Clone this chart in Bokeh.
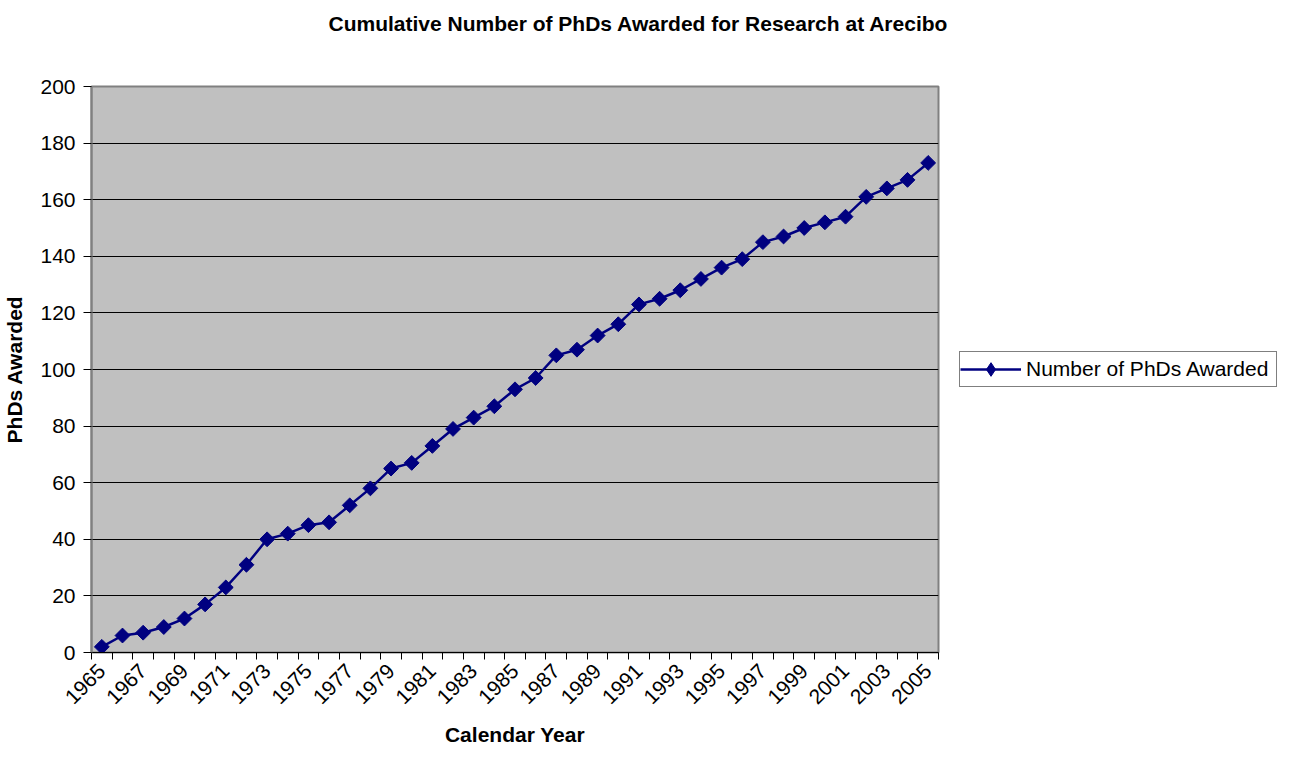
import math
from bokeh.plotting import figure
from bokeh.models import (Range1d, FixedTicker, Legend, LegendItem,
                          ColumnDataSource, Title)
from bokeh.embed import file_html
from bokeh.resources import INLINE

years = list(range(1965, 2006))
phds = [2, 6, 7, 9, 12, 17, 23, 31, 40, 42, 45, 46, 52, 58, 65, 67, 73, 79, 83,
        87, 93, 97, 105, 107, 112, 116, 123, 125, 128, 132, 136, 139, 145, 147,
        150, 152, 154, 161, 164, 167, 173]
series_name = "Number of PhDs Awarded"
title_text = "Cumulative Number of PhDs Awarded for Research at Arecibo"
x_title = "Calendar Year"
y_title = "PhDs Awarded"
y_ticks = list(range(0, 201, 20))
x_label_years = list(range(1965, 2006, 2))

FONT = "Liberation Sans"
FS = "21px"
NAVY = "#000080"

p = figure(frame_width=847, frame_height=566, title=None,
           output_backend="svg", toolbar_location=None,
           x_range=Range1d(years[0] - 0.5, years[-1] + 0.5),
           y_range=Range1d(0, 200),
           min_border_left=86, min_border_right=22,
           min_border_top=86, min_border_bottom=94)

p.background_fill_color = "#C0C0C0"
p.border_fill_color = "white"
p.outline_line_color = "#808080"
p.outline_line_width = 2

# spacer panel between frame and title, then the title itself
p.add_layout(Title(text=" ", text_font_size=FS, standoff=22), "above")
p.add_layout(Title(text=title_text, text_font=FONT, text_font_size=FS,
                   text_font_style="bold", text_color="black",
                   align="left", offset=237, standoff=10), "above")

# axes
p.xaxis.ticker = FixedTicker(ticks=x_label_years,
                             minor_ticks=[y - 0.5 for y in years] + [years[-1] + 0.5])
p.xaxis.major_tick_line_color = None
p.xaxis.minor_tick_line_color = "black"
p.xaxis.minor_tick_out = 7
p.xaxis.minor_tick_in = 0
p.xaxis.axis_line_color = "black"
p.xaxis.major_label_orientation = math.pi / 4
p.xaxis.major_label_text_font = FONT
p.xaxis.major_label_text_font_size = FS
p.xaxis.major_label_text_color = "black"
p.xaxis.major_label_standoff = 8
p.xaxis.axis_label = x_title
p.xaxis.axis_label_text_font = FONT
p.xaxis.axis_label_text_font_size = FS
p.xaxis.axis_label_text_font_style = "bold"
p.xaxis.axis_label_text_color = "black"
p.xaxis.axis_label_standoff = 10

p.yaxis.ticker = FixedTicker(ticks=y_ticks)
p.yaxis.minor_tick_line_color = None
p.yaxis.major_tick_line_color = "black"
p.yaxis.major_tick_out = 8
p.yaxis.major_tick_in = 0
p.yaxis.axis_line_color = "#808080"
p.yaxis.axis_line_width = 2
p.yaxis.major_label_text_font = FONT
p.yaxis.major_label_text_font_size = FS
p.yaxis.major_label_text_color = "black"
p.yaxis.major_label_standoff = 8
p.yaxis.axis_label = y_title
p.yaxis.axis_label_text_font = FONT
p.yaxis.axis_label_text_font_size = FS
p.yaxis.axis_label_text_font_style = "bold"
p.yaxis.axis_label_text_color = "black"
p.yaxis.axis_label_standoff = 11

p.xgrid.grid_line_color = None
p.ygrid.grid_line_color = "black"
p.ygrid.grid_line_width = 1
p.ygrid.ticker = FixedTicker(ticks=y_ticks)

src = ColumnDataSource(dict(x=years, y=phds))
ln = p.line("x", "y", source=src, line_color=NAVY, line_width=2.5)
mk = p.scatter("x", "y", source=src, marker="square", angle=math.pi / 4,
               size=10.5, fill_color=NAVY, line_color=NAVY)
# legend-only diamond (legend glyphs ignore angle)
lg_mk = p.scatter("x", "y", source=src, marker="diamond", size=14,
                  fill_color=NAVY, line_color=NAVY, visible=False)

legend = Legend(items=[LegendItem(label=series_name, renderers=[ln, lg_mk])],
                location=(21, 265),
                border_line_color="black", border_line_width=1,
                background_fill_color="white", background_fill_alpha=1,
                label_text_font=FONT, label_text_font_size=FS,
                label_text_color="black",
                glyph_width=61, glyph_height=34, label_height=34,
                label_width=250, label_standoff=5, padding=0, margin=0)
p.add_layout(legend, "right")

open("out.html", "w").write(file_html(p, INLINE))
